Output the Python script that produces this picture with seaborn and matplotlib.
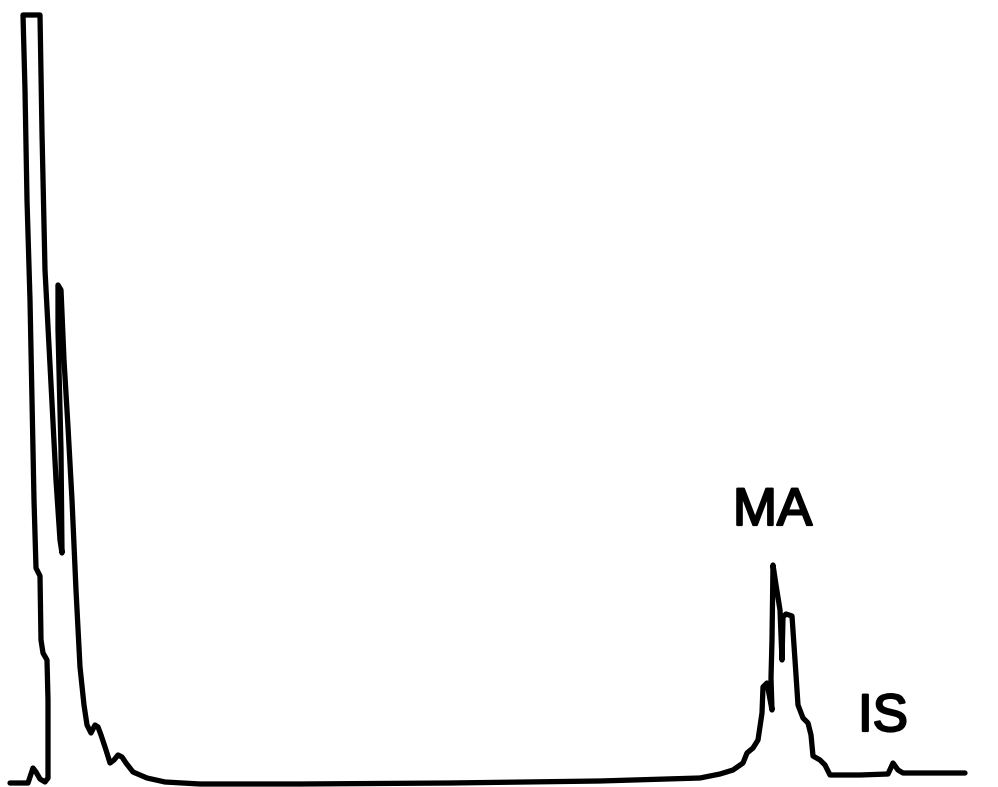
import matplotlib
matplotlib.use("Agg")
import matplotlib.pyplot as plt
import matplotlib.patheffects as pe
import seaborn as sns
import pandas as pd

# Detector trace: retention time (min) and signal (mAU), in drawing order
time_min = [
    0.10, 0.28, 0.33, 0.36, 0.40, 0.45, 0.48, 0.48, 0.47, 0.43, 0.41, 0.40,
    0.36, 0.34, 0.30, 0.27, 0.25, 0.23, 0.40, 0.42, 0.45, 0.52, 0.56, 0.60,
    0.62, 0.61, 0.58, 0.58, 0.61, 0.64, 0.68, 0.72, 0.76, 0.80, 0.84, 0.87,
    0.91, 0.95, 0.98, 1.01, 1.06, 1.10, 1.14, 1.18, 1.22, 1.26, 1.33, 1.47,
    1.65, 2.00, 3.00, 4.50, 6.00, 7.00,
    7.20, 7.33, 7.43, 7.47, 7.53, 7.58, 7.62, 7.63, 7.67, 7.72, 7.71, 7.72,
    7.73, 7.76, 7.80, 7.82, 7.83, 7.86, 7.92, 7.95, 7.98, 8.03, 8.08, 8.11,
    8.13, 8.20, 8.25, 8.30, 8.60, 8.88, 8.93, 8.98, 9.03, 9.65,
]
signal_mau = [
    0.0, 0.0, 7.5, 5.5, 2.0, 0.5, 2.5, 41.5, 61.5, 65.0, 71.5, 103.5,
    107.5, 141.5, 241.5, 291.5, 346.5, 384.0, 384.0, 325.0, 256.5, 190.0, 151.5, 121.5,
    115.0, 166.5, 226.5, 249.0, 246.5, 211.5, 178.0, 141.5, 96.5, 58.0, 39.0, 29.0,
    25.0, 29.0, 28.0, 24.0, 16.5, 10.0, 11.5, 14.0, 13.0, 10.0, 5.5, 2.5,
    0.5, -0.5, -0.5, 0.0, 1.0, 2.5,
    4.5, 6.5, 10.0, 15.0, 17.5, 21.5, 35.0, 48.0, 50.0, 36.5, 52.5, 71.5,
    109.0, 99.0, 86.5, 61.5, 83.0, 84.5, 83.5, 61.5, 39.0, 32.5, 30.0, 24.0,
    13.5, 11.5, 9.0, 4.0, 4.0, 4.5, 10.0, 6.5, 5.0, 5.0,
]

# Peak labels and where their text sits
peak_names = ["MA", "IS"]
label_time = [7.33, 8.58]
label_signal = [129.0, 26.0]

trace = pd.DataFrame({"time": time_min, "signal": signal_mau})

sns.set_theme(style="white")
plt.rcParams["font.family"] = ["Liberation Sans", "DejaVu Sans"]

fig = plt.figure(figsize=(9.98, 7.87), dpi=100)
ax = fig.add_axes([0, 0, 1, 1])

sns.lineplot(data=trace, x="time", y="signal", sort=False, estimator=None,
             color="black", linewidth=3.8, ax=ax)

for name, t, s in zip(peak_names, label_time, label_signal):
    ax.text(t, s, name, fontsize=38, color="black", ha="left", va="baseline",
            path_effects=[pe.withStroke(linewidth=1.6, foreground="black")])

ax.set_xlim(0, 9.98)
ax.set_ylim(-2.0, 391.5)
ax.set_axis_off()

fig.savefig("out.png", dpi=100, facecolor="white")
